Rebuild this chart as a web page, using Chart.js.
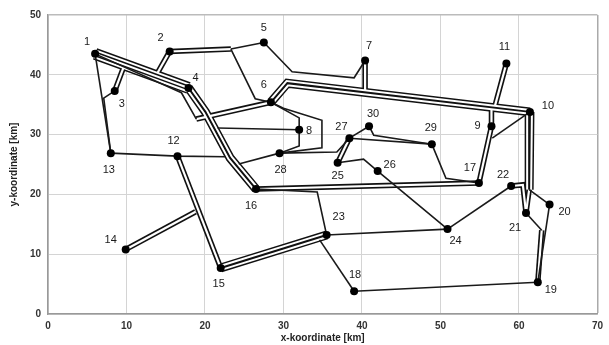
<!DOCTYPE html>
<html>
<head>
<meta charset="utf-8">
<script src="https://cdn.jsdelivr.net/npm/chart.js@4.4.1/dist/chart.umd.min.js"></script>
<style>
  html, body { margin: 0; padding: 0; background: #fff; }
  #wrap { width: 609px; height: 345px; }
</style>
</head>
<body>
<div id="wrap"><canvas id="netz" width="609" height="345"></canvas></div>
<script>
// node coordinates [km], index = node number - 1
const nodeIds = [1, 2, 3, 4, 5, 6, 7, 8, 9, 10, 11, 12, 13, 14, 15, 16, 17, 18, 19, 20, 21, 22, 23, 24, 25, 26, 27, 28, 29, 30];
const nodeX = [6.0, 15.5, 8.5, 17.9, 27.5, 28.4, 40.4, 32.0, 56.5, 61.4, 58.4, 16.5, 8.0, 9.9, 22.0, 26.5, 54.9, 39.0, 62.4, 63.9, 60.9, 59.0, 35.5, 50.9, 36.9, 42.0, 38.4, 29.5, 48.9, 40.9];
const nodeY = [43.5, 43.9, 37.3, 37.8, 45.4, 35.4, 42.4, 30.8, 31.4, 33.8, 41.9, 26.4, 26.9, 10.8, 7.7, 20.9, 21.9, 3.8, 5.3, 18.3, 16.9, 21.4, 13.2, 14.2, 25.3, 23.9, 29.4, 26.9, 28.4, 31.4];

const xTicks = [0, 10, 20, 30, 40, 50, 60, 70];
const yTicks = [0, 10, 20, 30, 40, 50];

// roads: a number is a node, a pair is a bend point [km]
const roads4 = [
  [1, 4]
];
const roads3 = [
  [6, [30.5, 38.6], 10],
  [4, [20.05, 33.8], [23.2, 26.1], 16],
  [10, [61.3, 20.8]],
  [15, 23]
];
const roads2 = [
  [[9.7, 41.5], 3],
  [2, [13.9, 40.2]],
  [2, [23.3, 44.3]],
  [[18.9, 32.6], 6],
  [7, [40.4, 37.2]],
  [11, [56.9, 34.6]],
  [9, [56.5, 34.5]],
  [9, 17],
  [[61.3, 20.8], 21],
  [22, [60.5, 21.6], 21],
  [[62.9, 14.0], 19],
  [12, 15],
  [14, [18.8, 17.1]],
  [25, 27],
  [16, 17]
];
const roads1 = [
  [1, 13],
  [3, [7.1, 36.1], 13],
  [1, [17.0, 37.0], [18.9, 32.6]],
  [[23.3, 44.3], 5],
  [[23.3, 44.3], [26.4, 36.0], 6],
  [5, [31.1, 40.5], [39.0, 39.5], 7],
  [10, [56.6, 29.4]],
  [[61.3, 20.8], 20],
  [21, [62.9, 14.0]],
  [20, 19],
  [19, 18],
  [18, [34.6, 12.4]],
  [13, 12, [22.6, 26.3]],
  [[24.3, 25.1], 28],
  [[21.6, 31.1], 8],
  [6, [32.0, 32.8], 8, [32.0, 28.1], 28],
  [6, [30.0, 34.4], [34.9, 32.4], [34.9, 27.8], 28],
  [28, [36.8, 27.1], 27],
  [27, 30],
  [30, [41.5, 29.9], 29],
  [27, 29],
  [29, [50.7, 22.7], 17],
  [16, [34.3, 20.4], 23],
  [25, [40.2, 25.9], 26, 24],
  [23, 24],
  [24, 22]
];

// label offset from the node in px
const labelOffset = [
  [-8, -12], [-9, -14], [7, 13], [7, -10], [0, -15], [-7, -17], [4, -14], [10, 1], [-14, 0], [18, -6],
  [-2, -16], [-4, -15], [-2, 17], [-15, -9], [-2, 16], [-5, 17], [-9, -15], [1, -16], [13, 8], [15, 7],
  [-11, 15], [-8, -11], [12, -18], [8, 12], [0, 13], [12, -6], [-8, -11], [1, 17], [-1, -16], [4, -12]
];

// stroke layers per road type: black/white alternating
const layers = {
  4: [['#111', 12], ['#fff', 9], ['#111', 5], ['#fff', 2]],
  3: [['#111', 9], ['#fff', 6], ['#111', 2]],
  2: [['#111', 5.5], ['#fff', 2.2]],
  1: [['#1a1a1a', 1.6]]
};

const toPoints = path => path.map(p => Array.isArray(p)
  ? { x: p[0], y: p[1] }
  : { x: nodeX[p - 1], y: nodeY[p - 1] });

const datasets = [];
const addLayer = (roads, color, width) => {
  roads.forEach(r => {
    datasets.push({
      data: toPoints(r),
      showLine: true,
      borderColor: color,
      borderWidth: width,
      pointRadius: 0,
      borderCapStyle: 'butt',
      borderJoinStyle: 'miter',
      tension: 0,
      fill: false
    });
  });
};

const multi = [[4, roads4], [3, roads3], [2, roads2]];
for (let k = 0; k < 4; k++) {
  multi.forEach(([t, roads]) => {
    if (layers[t][k]) addLayer(roads, layers[t][k][0], layers[t][k][1]);
  });
}
addLayer(roads1, layers[1][0][0], layers[1][0][1]);

datasets.push({
  data: nodeIds.map((id, i) => ({ x: nodeX[i], y: nodeY[i] })),
  pointRadius: 4,
  pointBackgroundColor: '#000',
  pointBorderWidth: 0,
  showLine: false
});
datasets.forEach((d, i) => { d.order = -i; });

const nodeLabels = {
  id: 'nodeLabels',
  afterDatasetsDraw(chart) {
    const { ctx, scales: { x, y } } = chart;
    ctx.save();
    ctx.font = '11px "Liberation Sans", Arial, sans-serif';
    ctx.fillStyle = '#1a1a1a';
    ctx.textAlign = 'center';
    ctx.textBaseline = 'middle';
    nodeIds.forEach((id, i) => {
      const px = x.getPixelForValue(nodeX[i]) + labelOffset[i][0];
      const py = y.getPixelForValue(nodeY[i]) + labelOffset[i][1];
      ctx.fillText(String(id), px, py);
    });
    ctx.restore();
  }
};

Chart.defaults.font.family = '"Liberation Sans", Arial, sans-serif';
Chart.defaults.color = '#222';

new Chart(document.getElementById('netz'), {
  type: 'scatter',
  data: { datasets },
  options: {
    responsive: false,
    animation: false,
    events: [],
    layout: { padding: { left: 0, right: 6, top: 15, bottom: 0 } },
    plugins: { legend: { display: false }, tooltip: { enabled: false } },
    scales: {
      x: {
        min: 0, max: 70,
        afterBuildTicks: s => { s.ticks = xTicks.map(v => ({ value: v })); },
        afterFit: s => { s.height = 31; },
        grid: { color: c => (c.tick && c.tick.value === 70 ? '#aaa' : '#d4d4d4'), lineWidth: c => (c.tick && c.tick.value === 70 ? 1.5 : 1), drawTicks: false },
        border: { color: '#999', width: 1.5 },
        ticks: { padding: 6, font: { size: 10, weight: 'bold' }, color: '#333' },
        title: { display: true, text: 'x-koordinate [km]', font: { size: 10, weight: 'bold' }, color: '#222', padding: { top: 0, bottom: 1 } }
      },
      y: {
        min: 0, max: 50,
        afterBuildTicks: s => { s.ticks = yTicks.map(v => ({ value: v })); },
        afterFit: s => { s.width = 48; },
        grid: { color: c => (c.tick && c.tick.value === 50 ? '#bbb' : '#d4d4d4'), lineWidth: c => (c.tick && c.tick.value === 50 ? 1.5 : 1), drawTicks: false },
        border: { color: '#999', width: 1.5 },
        ticks: { padding: 7, font: { size: 10, weight: 'bold' }, color: '#333' },
        title: { display: true, text: 'y-koordinate [km]', font: { size: 10, weight: 'bold' }, color: '#222', padding: { top: 8, bottom: 0 } }
      }
    }
  },
  plugins: [nodeLabels]
});
</script>
</body>
</html>
